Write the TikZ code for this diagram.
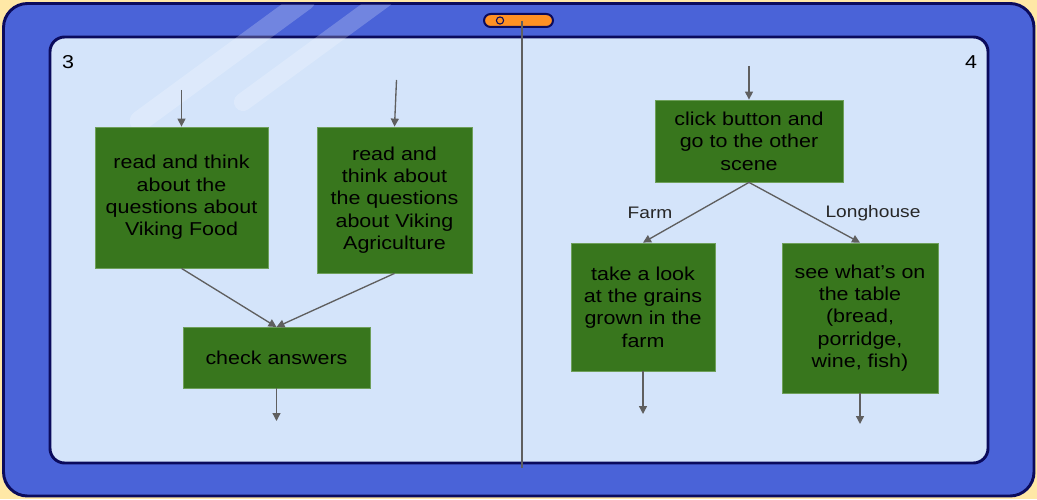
\documentclass[tikz,border=0pt]{standalone}
\usepackage{fontspec}
\setmainfont{Liberation Sans}
\newfontfamily\boxfont[FakeStretch=1.15]{Liberation Sans}
\usetikzlibrary{arrows.meta}
\definecolor{bgyellow}{HTML}{FFE8A6}
\definecolor{frameblue}{HTML}{4A63D8}
\definecolor{navy}{HTML}{0B0B5C}
\definecolor{panel}{HTML}{D4E4FA}
\definecolor{camorange}{HTML}{FF9124}
\definecolor{boxgreen}{HTML}{38761D}
\definecolor{boxedge}{HTML}{6E9F5A}
\definecolor{arrowgrey}{HTML}{5F5F5F}
\tikzset{
  stepbox/.style={rectangle, fill=boxgreen, draw=boxedge, line width=0.6pt, inner sep=0pt,
    align=center, text=black, font=\boxfont\fontsize{14pt}{16.8pt}\selectfont},
  flow/.style={draw=arrowgrey, line width=1pt, -{Triangle[length=6pt,width=6pt]}},
  edgelabel/.style={text=black!85, font=\boxfont\fontsize{12.5pt}{15pt}\selectfont},
  panelnum/.style={text=black, font=\boxfont\fontsize{14pt}{16.8pt}\selectfont}
}
\begin{document}
\begin{tikzpicture}[x=0.75pt,y=-0.75pt]
\useasboundingbox (0,0) rectangle (1037,499);
\fill[bgyellow] (0,0) rectangle (1037,499);
% outer frame
\draw[fill=frameblue, draw=navy, line width=2.2pt, rounded corners=18pt] (3.5,3.5) rectangle (1034,496);
% inner panel
\draw[fill=panel, draw=navy, line width=2.2pt, rounded corners=11pt] (50,37) rectangle (988,463);
% glare
\begin{scope}
  \clip[rounded corners=18pt] (4.5,4.5) rectangle (1033,495);
  \draw[white, opacity=0.22, line width=15.5pt, line cap=round] (140,121) -- (305,0);
  \draw[white, opacity=0.22, line width=13.5pt, line cap=round] (243,102) -- (385,-2);
\end{scope}
% camera
\draw[fill=camorange, draw=navy, line width=1.5pt, rounded corners=5pt] (484,14) rectangle (553,27);
\draw[navy, line width=0.8pt] (500,20.5) circle (3.6);
% divider
\draw[arrowgrey, line width=1pt] (522,21) -- (522,468);
% numbers
\node[panelnum] (n3) at (68,62) {3};
\node[panelnum] (n4) at (971,62) {4};
% left boxes
\node[stepbox, minimum width=173*0.75pt, minimum height=141*0.75pt] (a) at (181.5,197.5)
  {read and think\\about the\\questions about\\Viking Food};
\node[stepbox, minimum width=155*0.75pt, minimum height=146*0.75pt] (b) at (394.5,200)
  {read and\\think about\\the questions\\about Viking\\Agriculture};
\node[stepbox, minimum width=187*0.75pt, minimum height=61*0.75pt] (c) at (276.5,357.5)
  {check answers};
\coordinate (ain) at (181.5,90);
\coordinate (bin) at (396.5,80);
\coordinate (cout) at (276.5,421);
\coordinate (ctop) at (276.5,327);
\draw[flow] (ain) -- (a.north);
\draw[flow] (bin) -- (b.north);
\draw[flow] (a.south) -- (ctop);
\draw[flow] (b.south) -- (ctop);
\draw[flow] (c.south) -- (cout);
% right boxes
\node[stepbox, minimum width=188*0.75pt, minimum height=82*0.75pt] (d) at (749,141)
  {click button and\\go to the other\\scene};
\node[stepbox, minimum width=144*0.75pt, minimum height=128*0.75pt] (e) at (643,307)
  {take a look\\at the grains\\grown in the\\farm};
\node[stepbox, minimum width=156*0.75pt, minimum height=150*0.75pt] (f) at (860,318)
  {see what’s on\\the table\\(bread,\\porridge,\\wine, fish)};
\coordinate (din) at (749,66);
\coordinate (eout) at (643,414);
\coordinate (fout) at (860,424);
\draw[flow] (din) -- (d.north);
\draw[flow] (d.south) -- (e.north);
\draw[flow] (d.south) -- (f.north);
\draw[flow] (e.south) -- (eout);
\draw[flow] (f.south) -- (fout);
\node[edgelabel] (farm) at (650,213) {Farm};
\node[edgelabel] (long) at (873,213) {Longhouse};
\end{tikzpicture}
\end{document}
